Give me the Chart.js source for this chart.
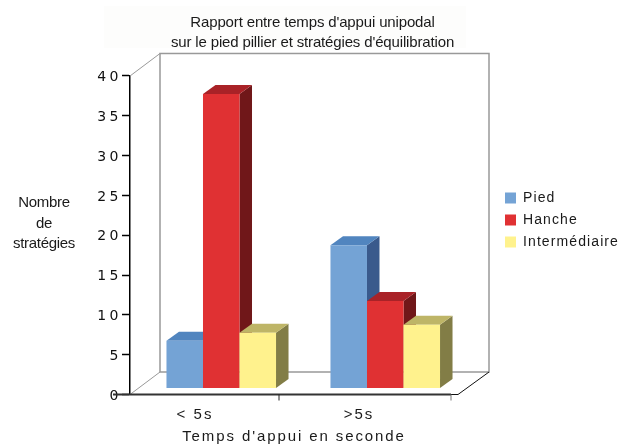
<!DOCTYPE html>
<html>
<head>
<meta charset="utf-8">
<style>
    html, body { margin: 0; padding: 0; background: #fff; }
    canvas { display: block; }
</style>
<script src="https://cdn.jsdelivr.net/npm/chart.js"></script>
</head>
<body>
<canvas id="chart" width="632" height="447"></canvas>
<script>
const categories = ['< 5s', '>5s'];
const pied = [6, 18];
const hanche = [37, 11];
const intermediaire = [7, 8];
const seriesNames = ['Pied', 'Hanche', 'Intermédiaire'];
const titleLines = ["Rapport entre temps d'appui unipodal", "sur le pied pillier et stratégies d'équilibration"];
const xTitle = "Temps d'appui en seconde";
const yTitleLines = ['Nombre', 'de', 'stratégies'];

const textFont = '"Liberation Sans", sans-serif';
const textColor = '#1a1a1a';
const faces = [
    { front: '#74a3d5', top: '#5185bf', side: '#3a5a8c' },
    { front: '#e03133', top: '#a92227', side: '#701719' },
    { front: '#fff28d', top: '#beb567', side: '#827d46' }
];

// how far the bars sit behind the front plane, and how deep they are
const barShift = { x: 9.25, y: -6 };
const barDepth = { x: 12.5, y: -9 };
const wallDepth = { x: 31, y: -22.5 };

function line(ctx, x1, y1, x2, y2, color, width) {
    ctx.strokeStyle = color;
    ctx.lineWidth = width;
    ctx.beginPath();
    ctx.moveTo(x1, y1);
    ctx.lineTo(x2, y2);
    ctx.stroke();
}

function poly(ctx, color, pts) {
    ctx.fillStyle = color;
    ctx.beginPath();
    pts.forEach(function(p, i) {
        if (i === 0) ctx.moveTo(p[0], p[1]);
        else ctx.lineTo(p[0], p[1]);
    });
    ctx.closePath();
    ctx.fill();
}

// draw a chart box's text with some letter spacing, nudged down by dy
function spaced(obj, method, px, dy) {
    const orig = obj[method];
    obj[method] = function() {
        this.ctx.save();
        this.ctx.letterSpacing = px;
        this.ctx.translate(0, dy || 0);
        orig.apply(this, arguments);
        this.ctx.restore();
    };
}

const box3d = {
    id: 'box3d',
    beforeLayout: function(chart) {
        if (chart.$wrapped) return;
        chart.$wrapped = true;
        const legend = chart.legend;
        const fit = legend.fit;
        legend.fit = function() {
            fit.apply(this, arguments);
            this.width = 167;
        };
        spaced(legend, 'draw', '1.1px');
        spaced(chart.titleBlock, 'draw', '-0.15px');
        spaced(chart.scales.x, 'drawLabels', '2px');
        spaced(chart.scales.x, 'drawTitle', '1.9px');
        spaced(chart.scales.y, 'drawLabels', '3.5px', 1.5);
    },
    afterLayout: function(chart) {
        const padding = chart.legend.options.labels.padding;
        chart.legend.left = 505 - padding;
        chart.legend.top = 191 - padding;
    },
    beforeDraw: function(chart) {
        const ctx = chart.ctx;
        ctx.save();
        ctx.fillStyle = '#fdfdfc';
        ctx.fillRect(104, 6, 362, 42);
        ctx.restore();
    },
    beforeDatasetsDraw: function(chart) {
        const ctx = chart.ctx;
        const a = chart.chartArea;
        const bx = a.left + wallDepth.x - 1;
        const rx = a.right + wallDepth.x;
        const ty = a.top + wallDepth.y;
        const by = a.bottom + wallDepth.y;
        ctx.save();
        line(ctx, a.left, a.top, bx, ty, '#999', 1);
        line(ctx, a.left, a.bottom, bx, by, '#999', 1);
        ctx.strokeStyle = '#999';
        ctx.lineWidth = 1.5;
        ctx.strokeRect(bx, ty, rx - bx, by - ty);
        line(ctx, a.right, a.bottom, rx, by, '#111', 1);
        ctx.translate(barShift.x, barShift.y);
        // first series first, so each later bar covers the side of the one before
        chart.getSortedVisibleDatasetMetas().slice().sort(function(m, n) {
            return m.index - n.index;
        }).forEach(function(meta) {
            const c = faces[meta.index];
            meta.data.forEach(function(bar) {
                const l = bar.x - bar.width / 2;
                const r = bar.x + bar.width / 2;
                const dx = barDepth.x;
                const dy = barDepth.y;
                poly(ctx, c.side, [[r, bar.y], [r + dx, bar.y + dy], [r + dx, bar.base + dy], [r, bar.base]]);
                poly(ctx, c.top, [[l, bar.y], [l + dx, bar.y + dy], [r + dx, bar.y + dy], [r, bar.y]]);
            });
            meta.controller.draw();
        });
        ctx.restore();
    },
    beforeDatasetDraw: function() {
        return false;
    },
    afterDraw: function(chart) {
        const ctx = chart.ctx;
        const a = chart.chartArea;
        ctx.save();
        // x axis line and its uneven tick marks
        line(ctx, 113, a.bottom, a.right - 7, a.bottom, '#333', 2);
        line(ctx, a.right - 7, a.bottom, a.right, a.bottom, '#111', 1);
        line(ctx, 279, a.bottom, 279, a.bottom + 6, '#222', 1);
        line(ctx, a.right - 7, a.bottom, a.right - 7, a.bottom + 6, '#777', 1);
        // horizontal y axis title
        ctx.fillStyle = textColor;
        ctx.font = '15px ' + textFont;
        ctx.letterSpacing = '-0.3px';
        ctx.textAlign = 'center';
        ctx.textBaseline = 'middle';
        yTitleLines.forEach(function(t, i) {
            ctx.fillText(t, 44, 203 + i * 20.5);
        });
        ctx.letterSpacing = '0px';
        ctx.restore();
    }
};

const datasetValues = [pied, hanche, intermediaire];

new Chart(document.getElementById('chart'), {
    type: 'bar',
    data: {
        labels: categories,
        datasets: seriesNames.map(function(name, i) {
            return {
                label: name,
                data: datasetValues[i],
                backgroundColor: faces[i].front,
                borderWidth: 0,
                categoryPercentage: 0.668,
                barPercentage: 1
            };
        })
    },
    plugins: [box3d],
    options: {
        responsive: false,
        animation: false,
        layout: { padding: { left: 0, right: 7, top: 0, bottom: 0 } },
        plugins: {
            tooltip: { enabled: false },
            title: {
                display: true,
                text: titleLines,
                color: textColor,
                font: { family: textFont, size: 15, weight: 'normal', lineHeight: 1.333 },
                padding: { top: 13, bottom: 23 }
            },
            legend: {
                position: 'right',
                align: 'start',
                labels: {
                    boxWidth: 11,
                    boxHeight: 11,
                    padding: 8,
                    color: textColor,
                    font: { family: textFont, size: 14 }
                }
            }
        },
        scales: {
            x: {
                afterFit: function(s) { s.height = 52.5; },
                grid: { display: false },
                border: { display: false },
                ticks: {
                    color: textColor,
                    padding: 3,
                    labelOffset: -17,
                    maxRotation: 0,
                    font: { family: textFont, size: 15 }
                },
                title: {
                    display: true,
                    text: xTitle,
                    color: textColor,
                    padding: { top: 0, bottom: 1 },
                    font: { family: textFont, size: 15 }
                }
            },
            y: {
                min: 0,
                max: 40,
                afterFit: function(s) { s.width = 130; },
                grid: { drawOnChartArea: false, tickLength: 8, tickColor: '#000', tickWidth: 1.5 },
                border: { color: '#000', width: 1.5 },
                ticks: {
                    stepSize: 5,
                    color: '#111',
                    padding: 0,
                    font: { family: 'DejaVu Sans', size: 14 }
                }
            }
        }
    }
});
</script>
</body>
</html>
